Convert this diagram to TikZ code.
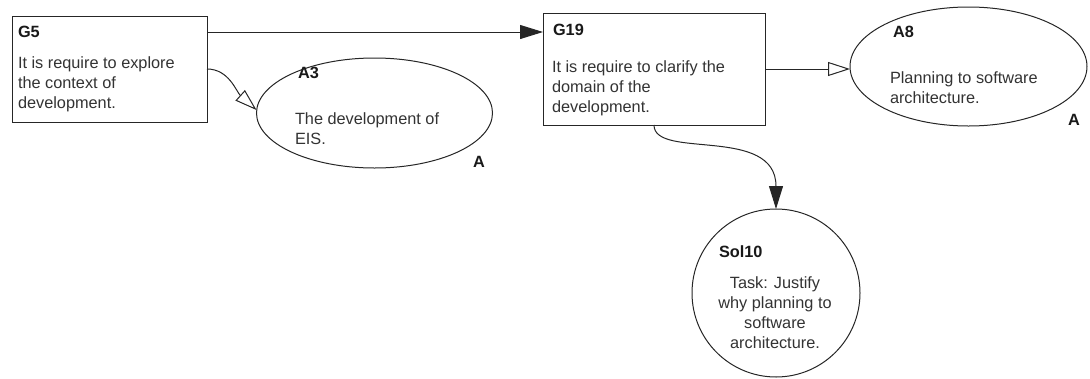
\documentclass[tikz,border=0pt]{standalone}
\usepackage{fontspec}
\setmainfont{Liberation Sans}
\usetikzlibrary{shapes.geometric,arrows.meta}
\begin{document}
\begin{tikzpicture}[x=1pt,y=-1pt,
  every node/.style={inner sep=0pt,outer sep=0pt},
  ink/.style={draw=black!85,line width=1pt},
  goalbox/.style={ink,rectangle,fill=white},
  assume/.style={ink,ellipse,fill=white},
  solution/.style={ink,circle,fill=white},
  idlabel/.style={font=\fontsize{16.3}{20}\selectfont\bfseries,text=black!90,anchor=base west},
  body/.style={font=\fontsize{16.3}{20}\selectfont,text=black!80,anchor=base west,align=left},
  tag/.style={font=\fontsize{16.3}{20}\selectfont\bfseries,text=black!90,anchor=base west},
  solid arrow/.style={ink,-{Triangle[length=23pt,width=14pt]}},
  open arrow/.style={ink,-{Triangle[open,length=22pt,width=14pt,fill=white]}}
]
\useasboundingbox (0,0) rectangle (1090,378);

% goal G5 (multi-line text is placed by the baseline of its last line)
\node[goalbox,minimum width=195pt,minimum height=106pt] (g5) at (109.5,69) {};
\node[idlabel] (g5id) at (18,37) {G5};
\node[body] (g5txt) at (18,108) {It is require to explore\\the context of\\development.};

% goal G19
\node[goalbox,minimum width=222pt,minimum height=112pt] (g19) at (654,69) {};
\node[idlabel] (g19id) at (553,35) {G19};
\node[body] (g19txt) at (552,112) {It is require to clarify the\\domain of the\\development.};

% assumption A3
\node[assume,minimum width=236pt,minimum height=110pt] (a3) at (374.5,113) {};
\node[idlabel] (a3id) at (298,78) {A3};
\node[body] (a3txt) at (295,144) {The development of\\EIS.};
\node[tag] (a3tag) at (473,167) {A};

% assumption A8
\node[assume,minimum width=237pt,minimum height=119pt] (a8) at (968.5,66.5) {};
\node[idlabel] (a8id) at (893,37) {A8};
\node[body] (a8txt) at (890,103) {Planning to software\\architecture.};
\node[tag] (a8tag) at (1068,125) {A};

% solution Sol10
\node[solution,minimum size=168pt] (sol10) at (776,293) {};
\node[idlabel] (sol10id) at (719,257) {Sol10};
\node[body,align=center,anchor=base] (sol10txt) at (775,348) {Task: Justify\\why planning to\\software\\architecture.};

% connectors
\coordinate (g5out) at ([yshift=-16pt]g5.north east);
\draw[solid arrow] (g5out) -- (g5out -| g19.west);
\draw[open arrow] ([yshift=-53pt]g5.north east) .. controls +(22,0) and +(-20,-18) .. ([yshift=3pt]a3.west);
\draw[open arrow] (g19.east) -- (g19.east -| a8.west);
\draw[solid arrow] (g19.south) .. controls +(0,35) and +(0,-84) .. (sol10.north);
\end{tikzpicture}
\end{document}
